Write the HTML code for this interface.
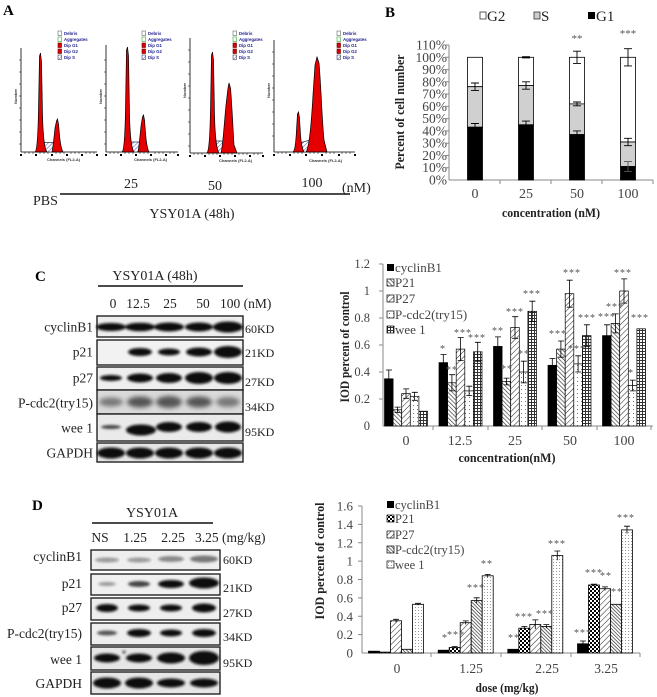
<!DOCTYPE html>
<html><head><meta charset="utf-8">
<style>
html,body{margin:0;padding:0;background:#fff;}
svg{display:block;font-family:"Liberation Serif","Times New Roman",serif;}
</style></head>
<body>
<svg width="657" height="697" viewBox="0 0 657 697" xmlns="http://www.w3.org/2000/svg">
<defs>
  <filter id="bl" x="-30%" y="-100%" width="160%" height="300%"><feGaussianBlur stdDeviation="1.2"/></filter>
  <filter id="bl2" x="-30%" y="-100%" width="160%" height="300%"><feGaussianBlur stdDeviation="2.4"/></filter>
  <pattern id="hA" width="3" height="3" patternUnits="userSpaceOnUse" patternTransform="rotate(45)"><rect width="3" height="3" fill="#fff"/><line x1="0" y1="0" x2="0" y2="3" stroke="#4a5ab8" stroke-width="1"/></pattern>
  <pattern id="cP21" width="3" height="3" patternUnits="userSpaceOnUse" patternTransform="rotate(-45)"><rect width="3" height="3" fill="#fff"/><line x1="0" y1="0" x2="0" y2="3" stroke="#333" stroke-width="1.3"/></pattern>
  <pattern id="cP27" width="4" height="4" patternUnits="userSpaceOnUse" patternTransform="rotate(45)"><rect width="4" height="4" fill="#fff"/><line x1="0" y1="0" x2="0" y2="4" stroke="#222" stroke-width="1"/></pattern>
  <pattern id="cPc" width="4" height="4" patternUnits="userSpaceOnUse"><rect width="4" height="4" fill="#fff"/><rect x="1" y="1" width="1" height="1" fill="#777"/></pattern>
  <pattern id="cW" width="3" height="3" patternUnits="userSpaceOnUse"><rect width="3" height="3" fill="#fff"/><line x1="0" y1="0.5" x2="3" y2="0.5" stroke="#333" stroke-width="1"/><line x1="0.5" y1="0" x2="0.5" y2="3" stroke="#333" stroke-width="1"/></pattern>
  <pattern id="dP21" width="4" height="4" patternUnits="userSpaceOnUse"><rect width="4" height="4" fill="#fff"/><rect width="2" height="2" fill="#000"/><rect x="2" y="2" width="2" height="2" fill="#000"/></pattern>
  <pattern id="dP27" width="4" height="4" patternUnits="userSpaceOnUse" patternTransform="rotate(45)"><rect width="4" height="4" fill="#fff"/><line x1="0" y1="0" x2="0" y2="4" stroke="#222" stroke-width="1"/></pattern>
  <pattern id="dPc" width="2.5" height="2.5" patternUnits="userSpaceOnUse" patternTransform="rotate(-45)"><rect width="2.5" height="2.5" fill="#fff"/><line x1="0" y1="0" x2="0" y2="2.5" stroke="#222" stroke-width="1.3"/></pattern>
  <pattern id="dW" width="3" height="3" patternUnits="userSpaceOnUse"><rect width="3" height="3" fill="#fff"/><rect x="1" y="1" width="1" height="1" fill="#999"/></pattern>
</defs>

<!-- ================= PANEL A ================= -->
<text x="3" y="15" font-size="15" font-weight="bold">A</text>
<g stroke="#000" stroke-width="0.8" fill="none">
  <line x1="21" y1="48" x2="21" y2="152"/><line x1="21" y1="152" x2="97" y2="152"/>
  <line x1="106" y1="45" x2="106" y2="152"/><line x1="106" y1="152" x2="178" y2="152"/>
  <line x1="190" y1="38" x2="190" y2="153"/><line x1="190" y1="153" x2="263" y2="153"/>
  <line x1="274" y1="40" x2="274" y2="152"/><line x1="274" y1="152" x2="355" y2="152"/>
</g>
<g stroke="#000" stroke-width="0.5">
  <path d="M19,60h2M19,72h2M19,84h2M19,96h2M19,108h2M19,120h2M19,132h2M19,144h2"/>
  <path d="M104,60h2M104,72h2M104,84h2M104,96h2M104,108h2M104,120h2M104,132h2M104,144h2"/>
  <path d="M188,50h2M188,62h2M188,74h2M188,86h2M188,98h2M188,110h2M188,122h2M188,134h2M188,146h2"/>
  <path d="M272,52h2M272,64h2M272,76h2M272,88h2M272,100h2M272,112h2M272,124h2M272,136h2"/>
  <path d="M25,152v2M29,152v2M33,152v2M40,152v2M44,152v2M48,152v2M56,152v2M60,152v2M64,152v2M71,152v2M75,152v2M79,152v2M86,152v2M90,152v2M94,152v2"/>
  <path d="M110,152v2M114,152v2M118,152v2M125,152v2M129,152v2M133,152v2M140,152v2M144,152v2M148,152v2M155,152v2M159,152v2M163,152v2M170,152v2M174,152v2"/>
  <path d="M194,153v2M198,153v2M202,153v2M209,153v2M213,153v2M217,153v2M224,153v2M228,153v2M232,153v2M239,153v2M243,153v2M247,153v2M254,153v2M258,153v2"/>
  <path d="M278,152v2M282,152v2M286,152v2M294,152v2M298,152v2M302,152v2M310,152v2M314,152v2M318,152v2M326,152v2M330,152v2M334,152v2M342,152v2M346,152v2M350,152v2"/>
</g>
<g fill="#000">
  <rect x="20" y="154" width="2" height="2"/><rect x="35" y="154" width="2" height="2"/><rect x="51" y="154" width="2" height="2"/><rect x="66" y="154" width="2" height="2"/><rect x="81" y="154" width="2" height="2"/><rect x="96" y="154" width="2" height="2"/>
  <rect x="105" y="154" width="2" height="2"/><rect x="120" y="154" width="2" height="2"/><rect x="135" y="154" width="2" height="2"/><rect x="150" y="154" width="2" height="2"/><rect x="165" y="154" width="2" height="2"/><rect x="177" y="154" width="2" height="2"/>
  <rect x="189" y="155" width="2" height="2"/><rect x="204" y="155" width="2" height="2"/><rect x="219" y="155" width="2" height="2"/><rect x="234" y="155" width="2" height="2"/><rect x="249" y="155" width="2" height="2"/><rect x="262" y="155" width="2" height="2"/>
  <rect x="273" y="154" width="2" height="2"/><rect x="289" y="154" width="2" height="2"/><rect x="305" y="154" width="2" height="2"/><rect x="321" y="154" width="2" height="2"/><rect x="338" y="154" width="2" height="2"/><rect x="354" y="154" width="2" height="2"/>
</g>
<!-- histogram shapes -->
<g stroke="#000" stroke-width="0.7">
  <path fill="url(#hA)" stroke="#334" d="M39,152 L40,144 L42,142.5 L53,142.5 L55,146 L56,152 Z"/>
  <path fill="#e40000" d="M35,152 C37,151 38,135 38.5,110 L39.5,56 L40.5,53 L41.5,62 L42.5,115 C43,135 44,148 47,152 Z"/>
  <path fill="#e40000" d="M52,152 C53,147 54,138 55,128 L56.5,121 L57.5,119 L58.5,124 C59.5,135 60,146 63,152 Z"/>

  <path fill="url(#hA)" stroke="#334" d="M126,152 L127,144 L129,142 L139,142 L141,146 L142,152 Z"/>
  <path fill="#e40000" d="M122,152 C124,151 125,135 125.5,110 L126.5,50 L127.5,47 L128.5,56 L129.5,115 C130,135 131,148 134,152 Z"/>
  <path fill="#e40000" d="M138,152 C139,147 140,136 141,126 L142.5,117 L143.5,115 L144.5,120 C145.5,132 146,146 149,152 Z"/>

  <path fill="url(#hA)" stroke="#334" d="M211,153 L213,143 L216,141 L224,141 L226,146 L227,153 Z"/>
  <path fill="#e40000" d="M207,153 C209,151 210,135 210.5,110 L211.5,55 L212.5,52 L213.5,60 L214.5,115 C215,135 216,148 219,153 Z"/>
  <path fill="#e40000" d="M221,153 C223,146 224,125 226,105 L228,88 L229,83 L230.5,88 C232,105 233,130 234,145 L237,153 Z"/>

  <path fill="url(#hA)" stroke="#334" d="M297,152 L299,144 L303,142 L310,140 L312,146 L313,152 Z"/>
  <path fill="#e40000" d="M293,152 C295,151 296,140 296.5,130 L297.5,114 L298.5,112 L299.5,118 L300.5,135 C301,142 302,148 304,152 Z"/>
  <path fill="#e40000" d="M306,152 C309,148 311,130 313,95 L315,65 L317,57 L319,63 C321,85 322,120 324,140 L327,152 Z"/>
</g>
<!-- histogram legends -->
<g font-family="Liberation Sans, sans-serif" font-size="4.3" font-weight="bold" fill="#1a1a8c">
  <g transform="translate(58,0)">
    <rect x="0" y="31" width="3.5" height="4.5" fill="#fff" stroke="#666" stroke-width="0.6"/><text x="6" y="35">Debris</text>
    <rect x="0" y="37" width="3.5" height="4.5" fill="#fff" stroke="#3a3" stroke-width="0.6"/><text x="6" y="41">Aggregates</text>
    <rect x="0" y="43" width="3.5" height="4.5" fill="#d00" stroke="#600" stroke-width="0.6"/><text x="6" y="47">Dip G1</text>
    <rect x="0" y="49" width="3.5" height="4.5" fill="#d00" stroke="#600" stroke-width="0.6"/><text x="6" y="53">Dip G2</text>
    <rect x="0" y="55" width="3.5" height="4.5" fill="url(#hA)" stroke="#446" stroke-width="0.6"/><text x="6" y="59">Dip S</text>
  </g>
  <g transform="translate(142,0)">
    <rect x="0" y="31" width="3.5" height="4.5" fill="#fff" stroke="#666" stroke-width="0.6"/><text x="6" y="35">Debris</text>
    <rect x="0" y="37" width="3.5" height="4.5" fill="#fff" stroke="#3a3" stroke-width="0.6"/><text x="6" y="41">Aggregates</text>
    <rect x="0" y="43" width="3.5" height="4.5" fill="#d00" stroke="#600" stroke-width="0.6"/><text x="6" y="47">Dip G1</text>
    <rect x="0" y="49" width="3.5" height="4.5" fill="#d00" stroke="#600" stroke-width="0.6"/><text x="6" y="53">Dip G2</text>
    <rect x="0" y="55" width="3.5" height="4.5" fill="url(#hA)" stroke="#446" stroke-width="0.6"/><text x="6" y="59">Dip S</text>
  </g>
  <g transform="translate(233,0)">
    <rect x="0" y="31" width="3.5" height="4.5" fill="#fff" stroke="#666" stroke-width="0.6"/><text x="6" y="35">Debris</text>
    <rect x="0" y="37" width="3.5" height="4.5" fill="#fff" stroke="#3a3" stroke-width="0.6"/><text x="6" y="41">Aggregates</text>
    <rect x="0" y="43" width="3.5" height="4.5" fill="#d00" stroke="#600" stroke-width="0.6"/><text x="6" y="47">Dip G1</text>
    <rect x="0" y="49" width="3.5" height="4.5" fill="#d00" stroke="#600" stroke-width="0.6"/><text x="6" y="53">Dip G2</text>
    <rect x="0" y="55" width="3.5" height="4.5" fill="url(#hA)" stroke="#446" stroke-width="0.6"/><text x="6" y="59">Dip S</text>
  </g>
  <g transform="translate(337,0)">
    <rect x="0" y="31" width="3.5" height="4.5" fill="#fff" stroke="#666" stroke-width="0.6"/><text x="6" y="35">Debris</text>
    <rect x="0" y="37" width="3.5" height="4.5" fill="#fff" stroke="#3a3" stroke-width="0.6"/><text x="6" y="41">Aggregates</text>
    <rect x="0" y="43" width="3.5" height="4.5" fill="#d00" stroke="#600" stroke-width="0.6"/><text x="6" y="47">Dip G1</text>
    <rect x="0" y="49" width="3.5" height="4.5" fill="#d00" stroke="#600" stroke-width="0.6"/><text x="6" y="53">Dip G2</text>
    <rect x="0" y="55" width="3.5" height="4.5" fill="url(#hA)" stroke="#446" stroke-width="0.6"/><text x="6" y="59">Dip S</text>
  </g>
</g>
<g font-family="Liberation Sans, sans-serif" font-size="4" fill="#333" font-weight="bold">
  <text x="47" y="161">Channels (FL2-A)</text>
  <text x="134" y="161">Channels (FL2-A)</text>
  <text x="219" y="162">Channels (FL2-A)</text>
  <text x="309" y="162">Channels (FL2-A)</text>
  <text transform="translate(17,104) rotate(-90)">Number</text>
  <text transform="translate(102,104) rotate(-90)">Number</text>
  <text transform="translate(186,98) rotate(-90)">Number</text>
  <text transform="translate(270,98) rotate(-90)">Number</text>
</g>
<g font-size="14" fill="#222">
  <text x="131" y="188" text-anchor="middle">25</text>
  <text x="215" y="190" text-anchor="middle">50</text>
  <text x="312" y="187" text-anchor="middle">100</text>
  <text x="342" y="192">(nM)</text>
  <text x="33" y="205">PBS</text>
  <text x="192" y="218" text-anchor="middle">YSY01A (48h)</text>
</g>
<line x1="60" y1="194" x2="350" y2="194" stroke="#111" stroke-width="1.5"/>

<!-- ================= PANEL B ================= -->
<text x="385" y="17" font-size="15" font-weight="bold">B</text>
<g font-size="15" fill="#222">
  <rect x="480" y="12" width="6" height="7" fill="#fff" stroke="#333" stroke-width="0.8"/><text x="487" y="21">G2</text>
  <rect x="534" y="12" width="6" height="7" fill="#ccc" stroke="#333" stroke-width="0.8"/><text x="541" y="21">S</text>
  <rect x="588" y="12" width="7" height="7" fill="#000"/><text x="596" y="21">G1</text>
</g>
<g font-size="13.5" fill="#444" text-anchor="end">
  <text x="447" y="49.5">110%</text>
  <text x="447" y="61.8">100%</text>
  <text x="447" y="74.1">90%</text>
  <text x="447" y="86.3">80%</text>
  <text x="447" y="98.6">70%</text>
  <text x="447" y="110.9">60%</text>
  <text x="447" y="123.1">50%</text>
  <text x="447" y="135.4">40%</text>
  <text x="447" y="147.7">30%</text>
  <text x="447" y="159.9">20%</text>
  <text x="447" y="172.2">10%</text>
  <text x="447" y="184.5">0%</text>
</g>
<g stroke="#888" stroke-width="1">
  <line x1="449" y1="45" x2="449" y2="180"/>
  <line x1="449" y1="180" x2="653" y2="180"/>
  <path d="M500,180v4M551,180v4M602,180v4M653,180v4M445,45h4M445,57.3h4M445,69.6h4M445,81.8h4M445,94.1h4M445,106.4h4M445,118.6h4M445,130.9h4M445,143.2h4M445,155.5h4M445,167.7h4"/>
</g>
<g stroke="#000" stroke-width="0.8">
  <rect x="467.5" y="57.3" width="15" height="29.4" fill="#fff"/>
  <rect x="467.5" y="86.7" width="15" height="40.5" fill="#d0d0d0"/>
  <rect x="467.5" y="127.2" width="15" height="52.8" fill="#000"/>
  <rect x="518.5" y="57.3" width="15" height="28.2" fill="#fff"/>
  <rect x="518.5" y="85.5" width="15" height="39.3" fill="#d0d0d0"/>
  <rect x="518.5" y="124.8" width="15" height="55.2" fill="#000"/>
  <rect x="569.5" y="57.3" width="15" height="46.6" fill="#fff"/>
  <rect x="569.5" y="103.9" width="15" height="30.7" fill="#d0d0d0"/>
  <rect x="569.5" y="134.6" width="15" height="45.4" fill="#000"/>
  <rect x="620.5" y="57.3" width="15" height="84.7" fill="#fff"/>
  <rect x="620.5" y="142.0" width="15" height="24.5" fill="#d0d0d0"/>
  <rect x="620.5" y="166.5" width="15" height="13.5" fill="#000"/>
</g>
<g stroke="#000" stroke-width="0.9" fill="none">
  <path d="M475,123.5V130.9M471,123.5h8M471,130.9h8"/>
  <path d="M475,83V90.4M471,83h8M471,90.4h8"/>
  <path d="M526,121.1V128.5M522,121.1h8M522,128.5h8"/>
  <path d="M526,81.8V89.2M522,81.8h8M522,89.2h8"/>
  <path d="M526,56.7V57.9M522,56.7h8M522,57.9h8"/>
  <path d="M577,130.9V138.3M573,130.9h8M573,138.3h8"/>
  <path d="M577,102V105.8M573,102h8M573,105.8h8"/>
  <path d="M577,51.2V63.4M573,51.2h8M573,63.4h8"/>
  <path d="M628,161.6V171.4M624,161.6h8M624,171.4h8" stroke="#555"/>
  <path d="M628,138.3V145.7M624,138.3h8M624,145.7h8"/>
  <path d="M628,48.7V65.9M624,48.7h8M624,65.9h8"/>
</g>
<g font-size="11" fill="#555" text-anchor="middle">
  <text x="577" y="42">**</text>
  <text x="628" y="37">***</text>
</g>
<g font-size="14" fill="#444" text-anchor="middle">
  <text x="475" y="198">0</text>
  <text x="526" y="198">25</text>
  <text x="577" y="198">50</text>
  <text x="628" y="198">100</text>
</g>
<text x="551" y="217" font-size="13" font-weight="bold" fill="#222" text-anchor="middle" textLength="98" lengthAdjust="spacingAndGlyphs">concentration (nM)</text>
<text transform="translate(404,112) rotate(-90)" font-size="13" font-weight="bold" fill="#222" text-anchor="middle" textLength="115" lengthAdjust="spacingAndGlyphs">Percent of cell number</text>

<!-- ================= PANEL C (blots) ================= -->
<text x="35" y="281" font-size="15" font-weight="bold">C</text>
<text x="155" y="280" font-size="14" fill="#222" text-anchor="middle">YSY01A (48h)</text>
<line x1="98" y1="286" x2="243" y2="286" stroke="#111" stroke-width="1.4"/>
<g font-size="13.5" fill="#222">
  <text x="113" y="308" text-anchor="middle">0</text>
  <text x="138" y="308" text-anchor="middle">12.5</text>
  <text x="170" y="308" text-anchor="middle">25</text>
  <text x="203" y="308" text-anchor="middle">50</text>
  <text x="220" y="308">100 (nM)</text>
</g>
<g stroke="#222" stroke-width="1.4">
  <rect x="97" y="316" width="146" height="21" fill="#eee"/>
  <rect x="97" y="340" width="146" height="25" fill="#f2f2f2"/>
  <rect x="97" y="367" width="146" height="23" fill="#eee"/>
  <rect x="97" y="390" width="146" height="24" fill="#dadada"/>
  <rect x="97" y="414" width="146" height="27" fill="#eaeaea"/>
  <rect x="97" y="443" width="146" height="19" fill="#e6e6e6"/>
</g>
<g fill="#111" filter="url(#bl)">
  <ellipse cx="111" cy="327" rx="15" ry="4"/><ellipse cx="140" cy="327" rx="15" ry="4.3"/><ellipse cx="169" cy="327" rx="15" ry="4.5"/><ellipse cx="199" cy="327" rx="14" ry="4.5"/><ellipse cx="228" cy="327" rx="15" ry="5.5"/>
  <ellipse cx="140" cy="352" rx="12" ry="4"/><ellipse cx="169" cy="352" rx="11" ry="3.5"/><ellipse cx="199" cy="352" rx="13" ry="4.5"/><ellipse cx="228" cy="352" rx="14" ry="6"/>
  <ellipse cx="111" cy="378" rx="11" ry="3"/><ellipse cx="140" cy="378" rx="13" ry="4.5"/><ellipse cx="169" cy="378" rx="13" ry="5"/><ellipse cx="199" cy="378" rx="14" ry="6"/><ellipse cx="228" cy="378" rx="14" ry="6"/>
  <ellipse cx="111" cy="427" rx="10" ry="2" fill="#444"/><ellipse cx="141" cy="430" rx="15" ry="5.5"/><ellipse cx="169" cy="427" rx="13" ry="5"/><ellipse cx="199" cy="427" rx="13" ry="5"/><ellipse cx="228" cy="427" rx="13" ry="5.5"/>
  <ellipse cx="111" cy="453" rx="14" ry="5.5"/><ellipse cx="140" cy="453" rx="14" ry="5.5"/><ellipse cx="169" cy="453" rx="14" ry="5.5"/><ellipse cx="199" cy="453" rx="14" ry="5.5"/><ellipse cx="228" cy="453" rx="14" ry="5.5"/>
</g>
<g fill="#555" filter="url(#bl2)">
  <ellipse cx="111" cy="402" rx="12" ry="4.5" fill="#777"/><ellipse cx="140" cy="402" rx="13" ry="5.5"/><ellipse cx="169" cy="402" rx="13" ry="6"/><ellipse cx="199" cy="402" rx="13" ry="5.5"/><ellipse cx="228" cy="402" rx="12" ry="5" fill="#777"/>
</g>
<g font-size="13.5" fill="#222" text-anchor="end">
  <text x="93" y="331.5">cyclinB1</text>
  <text x="93" y="356.5">p21</text>
  <text x="93" y="382.5">p27</text>
  <text x="93" y="407.5">P-cdc2(try15)</text>
  <text x="93" y="432.5">wee 1</text>
  <text x="93" y="457.5">GAPDH</text>
</g>
<g font-size="12" fill="#222">
  <text x="245" y="333">60KD</text>
  <text x="245" y="357">21KD</text>
  <text x="245" y="386">27KD</text>
  <text x="245" y="411">34KD</text>
  <text x="245" y="436">95KD</text>
</g>

<!-- ================= PANEL C (chart) ================= -->
<g font-size="12.5" fill="#444" text-anchor="end">
  <text x="370" y="268">1.2</text>
  <text x="370" y="295">1</text>
  <text x="370" y="322">0.8</text>
  <text x="370" y="349">0.6</text>
  <text x="370" y="376">0.4</text>
  <text x="370" y="403">0.2</text>
  <text x="370" y="430">0</text>
</g>
<g stroke="#888" stroke-width="1">
  <line x1="383" y1="264" x2="383" y2="426"/>
  <line x1="383" y1="426" x2="653" y2="426"/>
  <path d="M379,264h4M379,291h4M379,318h4M379,345h4M379,372h4M379,399h4M433,426v4M488,426v4M542,426v4M597,426v4M651,426v4"/>
</g>
<g stroke="#000" stroke-width="0.7">
  <rect x="384.5" y="378.8" width="8.6" height="47.2" fill="#000"/>
  <rect x="393.1" y="409.8" width="8.6" height="16.2" fill="url(#cP21)"/>
  <rect x="401.7" y="393.6" width="8.6" height="32.4" fill="url(#cP27)"/>
  <rect x="410.3" y="396.3" width="8.6" height="29.7" fill="url(#cPc)"/>
  <rect x="418.9" y="411.2" width="8.6" height="14.8" fill="url(#cW)"/>

  <rect x="439.0" y="362.6" width="8.6" height="63.4" fill="#000"/>
  <rect x="447.6" y="382.8" width="8.6" height="43.2" fill="url(#cP21)"/>
  <rect x="456.2" y="349.1" width="8.6" height="76.9" fill="url(#cP27)"/>
  <rect x="464.8" y="390.9" width="8.6" height="35.1" fill="url(#cPc)"/>
  <rect x="473.4" y="351.8" width="8.6" height="74.2" fill="url(#cW)"/>

  <rect x="493.5" y="346.4" width="8.6" height="79.6" fill="#000"/>
  <rect x="502.1" y="381.5" width="8.6" height="44.5" fill="url(#cP21)"/>
  <rect x="510.7" y="327.5" width="8.6" height="98.5" fill="url(#cP27)"/>
  <rect x="519.3" y="372.0" width="8.6" height="54.0" fill="url(#cPc)"/>
  <rect x="527.9" y="311.3" width="8.6" height="114.7" fill="url(#cW)"/>

  <rect x="548.0" y="365.3" width="8.6" height="60.7" fill="#000"/>
  <rect x="556.6" y="349.1" width="8.6" height="76.9" fill="url(#cP21)"/>
  <rect x="565.2" y="293.7" width="8.6" height="132.3" fill="url(#cP27)"/>
  <rect x="573.8" y="363.9" width="8.6" height="62.1" fill="url(#cPc)"/>
  <rect x="582.4" y="335.6" width="8.6" height="90.4" fill="url(#cW)"/>

  <rect x="602.5" y="335.6" width="8.6" height="90.4" fill="#000"/>
  <rect x="611.1" y="323.4" width="8.6" height="102.6" fill="url(#cP21)"/>
  <rect x="619.7" y="291.0" width="8.6" height="135.0" fill="url(#cP27)"/>
  <rect x="628.3" y="385.5" width="8.6" height="40.5" fill="url(#cPc)"/>
  <rect x="636.9" y="328.8" width="8.6" height="97.2" fill="url(#cW)"/>
</g>
<g stroke="#000" stroke-width="0.8" fill="none">
  <path d="M388.8,370V387.6M386,370h6"/>
  <path d="M397.4,407.1V412.5M394.6,407.1h6M394.6,412.5h6"/>
  <path d="M406,388.9V398.3M403.2,388.9h6M403.2,398.3h6"/>
  <path d="M414.6,392.3V400.3M411.8,392.3h6M411.8,400.3h6"/>

  <path d="M443.3,354.5V370.7M440.5,354.5h6"/>
  <path d="M451.9,374.7V390.9M449.1,374.7h6M449.1,390.9h6"/>
  <path d="M460.5,337.6V360.6M457.7,337.6h6M457.7,360.6h6"/>
  <path d="M469.1,386.2V395.6M466.3,386.2h6M466.3,395.6h6"/>
  <path d="M477.7,342.3V361.2M474.9,342.3h6M474.9,361.2h6"/>

  <path d="M497.8,336.9V355.9M495,336.9h6"/>
  <path d="M506.4,378.1V384.9M503.6,378.1h6M503.6,384.9h6"/>
  <path d="M515,316.7V338.3M512.2,316.7h6M512.2,338.3h6"/>
  <path d="M523.6,361.2V382.8M520.8,361.2h6M520.8,382.8h6"/>
  <path d="M532.2,301.2V321.4M529.4,301.2h6M529.4,321.4h6"/>

  <path d="M552.3,358.5V372.1M549.5,358.5h6"/>
  <path d="M560.9,341V357.2M558.1,341h6M558.1,357.2h6"/>
  <path d="M569.5,280.2V307.2M566.7,280.2h6M566.7,307.2h6"/>
  <path d="M578.1,355.8V372M575.3,355.8h6M575.3,372h6"/>
  <path d="M586.7,324.8V346.4M583.9,324.8h6M583.9,346.4h6"/>

  <path d="M606.8,324.8V346.4M604,324.8h6"/>
  <path d="M615.4,313.9V332.9M612.6,313.9h6M612.6,332.9h6"/>
  <path d="M624,278.9V303.1M621.2,278.9h6M621.2,303.1h6"/>
  <path d="M632.6,380.1V390.9M629.8,380.1h6M629.8,390.9h6"/>
</g>
<g font-size="10" fill="#555" text-anchor="middle" letter-spacing="1">
  <text x="443" y="352">*</text>
  <text x="452" y="373">**</text>
  <text x="463" y="336">***</text>
  <text x="477" y="341">***</text>
  <text x="498" y="334">**</text>
  <text x="507" y="372">**</text>
  <text x="515" y="315">***</text>
  <text x="524" y="357">**</text>
  <text x="532" y="297">***</text>
  <text x="558" y="337">***</text>
  <text x="572" y="276">***</text>
  <text x="577" y="352">***</text>
  <text x="587" y="321">***</text>
  <text x="607" y="320">***</text>
  <text x="615" y="310">***</text>
  <text x="623" y="276">***</text>
  <text x="631" y="376">*</text>
  <text x="640" y="321">***</text>
</g>
<g font-size="13" fill="#444">
  <rect x="387" y="264" width="7" height="7" fill="#000"/><text x="395" y="272">cyclinB1</text>
  <rect x="387" y="279" width="7" height="7" fill="url(#cP21)" stroke="#000" stroke-width="0.7"/><text x="395" y="287">P21</text>
  <rect x="387" y="295" width="7" height="7" fill="url(#cP27)" stroke="#000" stroke-width="0.7"/><text x="395" y="303">P27</text>
  <rect x="387" y="311" width="7" height="7" fill="url(#cPc)" stroke="#000" stroke-width="0.7"/><text x="395" y="319">P-cdc2(try15)</text>
  <rect x="387" y="326" width="7" height="7" fill="url(#cW)" stroke="#000" stroke-width="0.7"/><text x="395" y="334">wee 1</text>
</g>
<g font-size="14" fill="#444" text-anchor="middle">
  <text x="406" y="445">0</text>
  <text x="460" y="445">12.5</text>
  <text x="515" y="445">25</text>
  <text x="570" y="445">50</text>
  <text x="624" y="445">100</text>
</g>
<text x="507" y="462" font-size="13" font-weight="bold" fill="#222" text-anchor="middle" textLength="97" lengthAdjust="spacingAndGlyphs">concentration(nM)</text>
<text transform="translate(349,347) rotate(-90)" font-size="13" font-weight="bold" fill="#222" text-anchor="middle" textLength="111" lengthAdjust="spacingAndGlyphs">IOD percent of control</text>

<!-- ================= PANEL D (blots) ================= -->
<text x="32" y="510" font-size="15" font-weight="bold">D</text>
<text x="152" y="517" font-size="14" fill="#222" text-anchor="middle">YSY01A</text>
<line x1="92" y1="523" x2="213" y2="523" stroke="#111" stroke-width="1.4"/>
<g font-size="13.5" fill="#222">
  <text x="100" y="542" text-anchor="middle">NS</text>
  <text x="135" y="542" text-anchor="middle">1.25</text>
  <text x="173" y="542" text-anchor="middle">2.25</text>
  <text x="195" y="542">3.25 (mg/kg)</text>
</g>
<g stroke="#222" stroke-width="1.4">
  <rect x="91" y="550" width="129" height="20" fill="#eee"/>
  <rect x="91" y="574" width="129" height="21" fill="#f0f0f0"/>
  <rect x="91" y="598" width="129" height="22" fill="#eee"/>
  <rect x="91" y="623" width="129" height="22" fill="#eee"/>
  <rect x="91" y="647" width="129" height="23" fill="#e6e6e6"/>
  <rect x="91" y="672" width="129" height="22" fill="#e6e6e6"/>
</g>
<g fill="#111" filter="url(#bl)">
  <ellipse cx="107" cy="560" rx="12" ry="2.5" fill="#999"/><ellipse cx="139" cy="560" rx="12" ry="2.5" fill="#999"/><ellipse cx="171" cy="559" rx="13" ry="3" fill="#888"/><ellipse cx="204" cy="559" rx="14" ry="3.5" fill="#777"/>
  <ellipse cx="107" cy="584" rx="9" ry="2" fill="#999"/><ellipse cx="139" cy="584" rx="11" ry="3" fill="#444"/><ellipse cx="171" cy="584" rx="13" ry="4"/><ellipse cx="204" cy="583" rx="15" ry="5.5"/>
  <ellipse cx="107" cy="608" rx="11" ry="4"/><ellipse cx="139" cy="608" rx="11" ry="3.5"/><ellipse cx="171" cy="608" rx="11" ry="3.5"/><ellipse cx="204" cy="608" rx="12" ry="4.5"/>
  <ellipse cx="107" cy="633" rx="10" ry="2.5" fill="#555"/><ellipse cx="139" cy="633" rx="12" ry="4"/><ellipse cx="171" cy="633" rx="11" ry="3.5"/><ellipse cx="204" cy="633" rx="12" ry="4"/>
  <ellipse cx="107" cy="658" rx="13" ry="4.5"/><ellipse cx="139" cy="658" rx="13" ry="4.5"/><ellipse cx="171" cy="658" rx="14" ry="5.5"/><ellipse cx="204" cy="658" rx="15" ry="7"/>
  <ellipse cx="107" cy="683" rx="14" ry="5.5"/><ellipse cx="139" cy="683" rx="14" ry="5.5"/><ellipse cx="171" cy="683" rx="14" ry="4.5"/><ellipse cx="204" cy="683" rx="14" ry="4.5"/>
  <circle cx="124" cy="652" r="1.3"/>
</g>
<g font-size="13.5" fill="#222" text-anchor="end">
  <text x="82" y="561">cyclinB1</text>
  <text x="82" y="588">p21</text>
  <text x="82" y="612">p27</text>
  <text x="82" y="638">P-cdc2(try15)</text>
  <text x="82" y="664">wee 1</text>
  <text x="82" y="688">GAPDH</text>
</g>
<g font-size="12" fill="#222">
  <text x="223" y="564">60KD</text>
  <text x="223" y="592">21KD</text>
  <text x="223" y="617">27KD</text>
  <text x="223" y="641">34KD</text>
  <text x="223" y="667">95KD</text>
</g>

<!-- ================= PANEL D (chart) ================= -->
<g font-size="13" fill="#444" text-anchor="end">
  <text x="353" y="510.5">1.6</text>
  <text x="353" y="528.9">1.4</text>
  <text x="353" y="547.3">1.2</text>
  <text x="353" y="565.6">1</text>
  <text x="353" y="584">0.8</text>
  <text x="353" y="602.4">0.6</text>
  <text x="353" y="620.8">0.4</text>
  <text x="353" y="639.1">0.2</text>
  <text x="353" y="657.5">0</text>
</g>
<g stroke="#888" stroke-width="1">
  <line x1="362" y1="506" x2="362" y2="653"/>
  <line x1="362" y1="653" x2="640" y2="653"/>
  <path d="M358,506h4M358,524.4h4M358,542.8h4M358,561.1h4M358,579.5h4M358,597.9h4M358,616.3h4M358,634.6h4M431,653v4M501,653v4M571,653v4M640,653v4"/>
</g>
<g stroke="#000" stroke-width="0.8">
  <rect x="368.5" y="651.2" width="11" height="1.8" fill="#000"/>
  <rect x="379.5" y="652.1" width="11" height="0.9" fill="url(#dP21)"/>
  <rect x="390.5" y="620.8" width="11" height="32.2" fill="url(#dP27)"/>
  <rect x="401.5" y="649.3" width="11" height="3.7" fill="url(#dPc)"/>
  <rect x="412.5" y="604.3" width="11" height="48.7" fill="url(#dW)"/>

  <rect x="438.2" y="650.2" width="11" height="2.8" fill="#000"/>
  <rect x="449.2" y="647.5" width="11" height="5.5" fill="url(#dP21)"/>
  <rect x="460.2" y="622.7" width="11" height="30.3" fill="url(#dP27)"/>
  <rect x="471.2" y="600.6" width="11" height="52.4" fill="url(#dPc)"/>
  <rect x="482.2" y="575.8" width="11" height="77.2" fill="url(#dW)"/>

  <rect x="507.8" y="649.3" width="11" height="3.7" fill="#000"/>
  <rect x="518.8" y="628.2" width="11" height="24.8" fill="url(#dP21)"/>
  <rect x="529.8" y="624.5" width="11" height="28.5" fill="url(#dP27)"/>
  <rect x="540.8" y="626.4" width="11" height="26.6" fill="url(#dPc)"/>
  <rect x="551.8" y="555.6" width="11" height="97.4" fill="url(#dW)"/>

  <rect x="577.5" y="643.8" width="11" height="9.2" fill="#000"/>
  <rect x="588.5" y="585.0" width="11" height="68.0" fill="url(#dP21)"/>
  <rect x="599.5" y="588.7" width="11" height="64.3" fill="url(#dP27)"/>
  <rect x="610.5" y="604.3" width="11" height="48.7" fill="url(#dPc)"/>
  <rect x="621.5" y="529.9" width="11" height="123.1" fill="url(#dW)"/>
</g>
<g stroke="#000" stroke-width="0.8" fill="none">
  <path d="M396,619.3V622.3M393,619.3h6"/>
  <path d="M418,603.3V605.3M415,603.3h6"/>
  <path d="M454.7,646.5V648.5M451.7,646.5h6"/>
  <path d="M465.7,620.9V624.5M462.7,620.9h6"/>
  <path d="M476.7,597.8V603.4M473.7,597.8h6"/>
  <path d="M487.7,574.4V577.2M484.7,574.4h6"/>
  <path d="M524.3,626.4V630M521.3,626.4h6"/>
  <path d="M535.3,619.9V629.1M532.3,619.9h6"/>
  <path d="M546.3,624.6V628.2M543.3,624.6h6"/>
  <path d="M557.3,551V560.2M554.3,551h6"/>
  <path d="M583,641V646.6M580,641h6"/>
  <path d="M594,584.1V585.9M591,584.1h6"/>
  <path d="M605,586.9V590.5M602,586.9h6"/>
  <path d="M627,526.2V533.6M624,526.2h6"/>
</g>
<g font-size="10" fill="#555" text-anchor="middle" letter-spacing="1">
  <text x="445" y="641">*</text>
  <text x="456" y="638">***</text>
  <text x="476" y="591">***</text>
  <text x="487" y="567">**</text>
  <text x="514" y="641">**</text>
  <text x="524" y="620">***</text>
  <text x="545" y="617">***</text>
  <text x="557" y="547">***</text>
  <text x="583" y="636">***</text>
  <text x="594" y="576">***</text>
  <text x="606" y="579">**</text>
  <text x="617" y="595">**</text>
  <text x="626" y="521">***</text>
</g>
<g font-size="12.5" fill="#444">
  <rect x="387" y="501" width="7" height="7" fill="#000"/><text x="395" y="509">cyclinB1</text>
  <rect x="387" y="515" width="7" height="7" fill="url(#dP21)" stroke="#000" stroke-width="0.7"/><text x="395" y="523">P21</text>
  <rect x="387" y="531" width="7" height="7" fill="url(#dP27)" stroke="#000" stroke-width="0.7"/><text x="395" y="539">P27</text>
  <rect x="387" y="546" width="7" height="7" fill="url(#dPc)" stroke="#000" stroke-width="0.7"/><text x="395" y="554">P-cdc2(try15)</text>
  <rect x="387" y="561" width="7" height="7" fill="url(#dW)" stroke="#000" stroke-width="0.7"/><text x="395" y="569">wee 1</text>
</g>
<g font-size="13.5" fill="#444" text-anchor="middle">
  <text x="397" y="673">0</text>
  <text x="471" y="673">1.25</text>
  <text x="547" y="673">2.25</text>
  <text x="606" y="673">3.25</text>
</g>
<text x="507" y="692" font-size="13" font-weight="bold" fill="#222" text-anchor="middle" textLength="63" lengthAdjust="spacingAndGlyphs">dose (mg/kg)</text>
<text transform="translate(324,561) rotate(-90)" font-size="13" font-weight="bold" fill="#222" text-anchor="middle" textLength="117" lengthAdjust="spacingAndGlyphs">IOD percent of control</text>
</svg>
</body></html>
